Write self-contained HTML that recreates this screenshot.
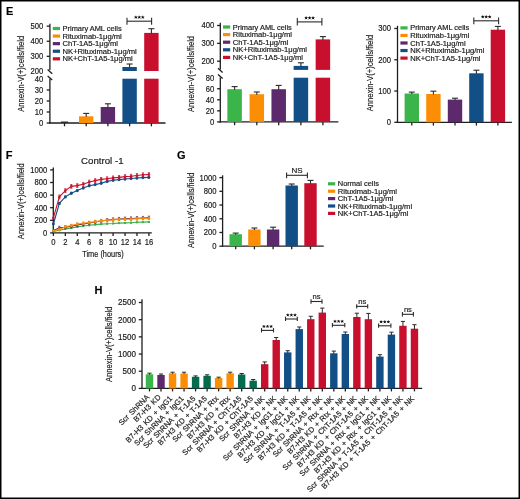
<!DOCTYPE html>
<html><head><meta charset="utf-8"><title>Figure</title>
<style>
html,body{margin:0;padding:0;background:#fff;}
svg{display:block;font-family:"Liberation Sans", sans-serif;will-change:transform;}
text{font-family:"Liberation Sans", sans-serif;stroke:#1a1a1a;stroke-width:0.18px;}
</style></head>
<body>
<svg width="520" height="499" viewBox="0 0 520 499">
<rect x="0.75" y="0.75" width="518.5" height="497.5" fill="#fff" stroke="#000" stroke-width="1.5"/>
<text x="6.00" y="14.80" font-size="11" text-anchor="start" font-weight="bold" fill="#000">E</text>
<text x="5.80" y="158.80" font-size="11" text-anchor="start" font-weight="bold" fill="#000">F</text>
<text x="177.10" y="159.00" font-size="11" text-anchor="start" font-weight="bold" fill="#000">G</text>
<text x="94.40" y="294.40" font-size="11" text-anchor="start" font-weight="bold" fill="#000">H</text>
<text transform="translate(23.90,73.80) rotate(-90)" x="0" y="0" font-size="8.8" text-anchor="middle" fill="#1a1a1a" textLength="76.00" lengthAdjust="spacingAndGlyphs">Annexin-V(+)cells/field</text>
<line x1="49.90" y1="23.66" x2="49.90" y2="70.00" stroke="#1e1e1e" stroke-width="1.3"/>
<line x1="49.90" y1="78.80" x2="49.90" y2="123.50" stroke="#1e1e1e" stroke-width="1.3"/>
<line x1="47.60" y1="69.50" x2="52.20" y2="73.70" stroke="#1e1e1e" stroke-width="1.3"/>
<line x1="47.60" y1="75.90" x2="52.20" y2="80.10" stroke="#1e1e1e" stroke-width="1.3"/>
<line x1="46.70" y1="26.16" x2="49.90" y2="26.16" stroke="#1e1e1e" stroke-width="1.3"/>
<text x="43.20" y="29.11" font-size="8.3" text-anchor="end" font-weight="normal" fill="#1a1a1a" textLength="12.74" lengthAdjust="spacingAndGlyphs">500</text>
<line x1="46.70" y1="41.24" x2="49.90" y2="41.24" stroke="#1e1e1e" stroke-width="1.3"/>
<text x="43.20" y="44.19" font-size="8.3" text-anchor="end" font-weight="normal" fill="#1a1a1a" textLength="12.74" lengthAdjust="spacingAndGlyphs">400</text>
<line x1="46.70" y1="56.32" x2="49.90" y2="56.32" stroke="#1e1e1e" stroke-width="1.3"/>
<text x="43.20" y="59.27" font-size="8.3" text-anchor="end" font-weight="normal" fill="#1a1a1a" textLength="12.74" lengthAdjust="spacingAndGlyphs">300</text>
<text x="43.20" y="74.35" font-size="8.3" text-anchor="end" font-weight="normal" fill="#1a1a1a" textLength="12.74" lengthAdjust="spacingAndGlyphs">200</text>
<text x="43.20" y="81.95" font-size="8.3" text-anchor="end" font-weight="normal" fill="#1a1a1a" textLength="8.49" lengthAdjust="spacingAndGlyphs">40</text>
<line x1="46.70" y1="90.00" x2="49.90" y2="90.00" stroke="#1e1e1e" stroke-width="1.3"/>
<text x="43.20" y="92.95" font-size="8.3" text-anchor="end" font-weight="normal" fill="#1a1a1a" textLength="8.49" lengthAdjust="spacingAndGlyphs">30</text>
<line x1="46.70" y1="101.00" x2="49.90" y2="101.00" stroke="#1e1e1e" stroke-width="1.3"/>
<text x="43.20" y="103.95" font-size="8.3" text-anchor="end" font-weight="normal" fill="#1a1a1a" textLength="8.49" lengthAdjust="spacingAndGlyphs">20</text>
<line x1="46.70" y1="112.00" x2="49.90" y2="112.00" stroke="#1e1e1e" stroke-width="1.3"/>
<text x="43.20" y="114.95" font-size="8.3" text-anchor="end" font-weight="normal" fill="#1a1a1a" textLength="8.49" lengthAdjust="spacingAndGlyphs">10</text>
<line x1="46.70" y1="123.00" x2="49.90" y2="123.00" stroke="#1e1e1e" stroke-width="1.3"/>
<text x="43.20" y="125.95" font-size="8.3" text-anchor="end" font-weight="normal" fill="#1a1a1a" textLength="4.25" lengthAdjust="spacingAndGlyphs">0</text>
<line x1="49.40" y1="123.00" x2="165.50" y2="123.00" stroke="#1e1e1e" stroke-width="1.3"/>
<line x1="64.50" y1="123.00" x2="64.50" y2="126.30" stroke="#1e1e1e" stroke-width="1.3"/>
<line x1="86.20" y1="123.00" x2="86.20" y2="126.30" stroke="#1e1e1e" stroke-width="1.3"/>
<line x1="107.90" y1="123.00" x2="107.90" y2="126.30" stroke="#1e1e1e" stroke-width="1.3"/>
<line x1="129.60" y1="123.00" x2="129.60" y2="126.30" stroke="#1e1e1e" stroke-width="1.3"/>
<line x1="151.40" y1="123.00" x2="151.40" y2="126.30" stroke="#1e1e1e" stroke-width="1.3"/>
<line x1="60.90" y1="122.20" x2="68.10" y2="122.20" stroke="#2a2a2a" stroke-width="1.4"/>
<rect x="79.00" y="116.30" width="14.40" height="6.70" fill="#fc8e06"/>
<line x1="86.20" y1="116.80" x2="86.20" y2="113.40" stroke="#2a2a2a" stroke-width="1.1"/>
<line x1="83.20" y1="113.40" x2="89.20" y2="113.40" stroke="#2a2a2a" stroke-width="1.1"/>
<rect x="100.70" y="107.00" width="14.40" height="16.00" fill="#5c2a6c"/>
<line x1="107.90" y1="107.50" x2="107.90" y2="103.80" stroke="#2a2a2a" stroke-width="1.1"/>
<line x1="104.90" y1="103.80" x2="110.90" y2="103.80" stroke="#2a2a2a" stroke-width="1.1"/>
<rect x="122.40" y="78.70" width="14.40" height="44.30" fill="#124f86"/>
<rect x="122.40" y="67.00" width="14.40" height="4.00" fill="#124f86"/>
<line x1="129.60" y1="67.50" x2="129.60" y2="64.00" stroke="#2a2a2a" stroke-width="1.1"/>
<line x1="126.60" y1="64.00" x2="132.60" y2="64.00" stroke="#2a2a2a" stroke-width="1.1"/>
<rect x="144.20" y="78.70" width="14.40" height="44.30" fill="#c8102e"/>
<rect x="144.20" y="32.90" width="14.40" height="38.10" fill="#c8102e"/>
<line x1="151.40" y1="33.40" x2="151.40" y2="28.70" stroke="#2a2a2a" stroke-width="1.1"/>
<line x1="148.40" y1="28.70" x2="154.40" y2="28.70" stroke="#2a2a2a" stroke-width="1.1"/>
<line x1="127.00" y1="21.20" x2="151.60" y2="21.20" stroke="#2a2a2a" stroke-width="1.1"/>
<line x1="127.00" y1="17.80" x2="127.00" y2="24.70" stroke="#2a2a2a" stroke-width="1.1"/>
<line x1="151.60" y1="17.80" x2="151.60" y2="24.70" stroke="#2a2a2a" stroke-width="1.1"/>
<path d="M135.85,17.30L135.85,16.15M135.85,17.30L134.76,16.94M135.85,17.30L135.17,18.23M135.85,17.30L136.53,18.23M135.85,17.30L136.94,16.94" stroke="#111" stroke-width="0.85" stroke-linecap="round" fill="none"/>
<circle cx="135.85" cy="17.30" r="0.63" fill="#111"/>
<path d="M139.30,17.30L139.30,16.15M139.30,17.30L138.21,16.94M139.30,17.30L138.62,18.23M139.30,17.30L139.98,18.23M139.30,17.30L140.39,16.94" stroke="#111" stroke-width="0.85" stroke-linecap="round" fill="none"/>
<circle cx="139.30" cy="17.30" r="0.63" fill="#111"/>
<path d="M142.75,17.30L142.75,16.15M142.75,17.30L141.66,16.94M142.75,17.30L142.07,18.23M142.75,17.30L143.43,18.23M142.75,17.30L143.84,16.94" stroke="#111" stroke-width="0.85" stroke-linecap="round" fill="none"/>
<circle cx="142.75" cy="17.30" r="0.63" fill="#111"/>
<rect x="52.80" y="26.90" width="7.20" height="3.20" fill="#3bb44a"/>
<text x="62.60" y="31.06" font-size="7.1" text-anchor="start" font-weight="normal" fill="#1a1a1a" textLength="59.00" lengthAdjust="spacingAndGlyphs">Primary AML cells</text>
<rect x="52.80" y="34.48" width="7.20" height="3.20" fill="#fc8e06"/>
<text x="62.60" y="38.64" font-size="7.1" text-anchor="start" font-weight="normal" fill="#1a1a1a" textLength="59.20" lengthAdjust="spacingAndGlyphs">Rituximab-1μg/ml</text>
<rect x="52.80" y="42.06" width="7.20" height="3.20" fill="#5c2a6c"/>
<text x="62.60" y="46.22" font-size="7.1" text-anchor="start" font-weight="normal" fill="#1a1a1a" textLength="55.40" lengthAdjust="spacingAndGlyphs">ChT-1A5-1μg/ml</text>
<rect x="52.80" y="49.64" width="7.20" height="3.20" fill="#124f86"/>
<text x="62.60" y="53.80" font-size="7.1" text-anchor="start" font-weight="normal" fill="#1a1a1a" textLength="74.20" lengthAdjust="spacingAndGlyphs">NK+Rituximab-1μg/ml</text>
<rect x="52.80" y="57.22" width="7.20" height="3.20" fill="#c8102e"/>
<text x="62.60" y="61.38" font-size="7.1" text-anchor="start" font-weight="normal" fill="#1a1a1a" textLength="70.20" lengthAdjust="spacingAndGlyphs">NK+ChT-1A5-1μg/ml</text>
<text transform="translate(194.20,74.00) rotate(-90)" x="0" y="0" font-size="8.8" text-anchor="middle" fill="#1a1a1a" textLength="76.20" lengthAdjust="spacingAndGlyphs">Annexin-V(+)cells/field</text>
<line x1="220.30" y1="22.70" x2="220.30" y2="69.40" stroke="#1e1e1e" stroke-width="1.3"/>
<line x1="220.30" y1="77.60" x2="220.30" y2="122.40" stroke="#1e1e1e" stroke-width="1.3"/>
<line x1="218.00" y1="68.30" x2="222.60" y2="72.50" stroke="#1e1e1e" stroke-width="1.3"/>
<line x1="218.00" y1="74.40" x2="222.60" y2="78.60" stroke="#1e1e1e" stroke-width="1.3"/>
<line x1="217.10" y1="25.50" x2="220.30" y2="25.50" stroke="#1e1e1e" stroke-width="1.3"/>
<text x="214.30" y="28.45" font-size="8.3" text-anchor="end" font-weight="normal" fill="#1a1a1a" textLength="12.74" lengthAdjust="spacingAndGlyphs">400</text>
<line x1="217.10" y1="43.35" x2="220.30" y2="43.35" stroke="#1e1e1e" stroke-width="1.3"/>
<text x="214.30" y="46.30" font-size="8.3" text-anchor="end" font-weight="normal" fill="#1a1a1a" textLength="12.74" lengthAdjust="spacingAndGlyphs">300</text>
<line x1="217.10" y1="61.20" x2="220.30" y2="61.20" stroke="#1e1e1e" stroke-width="1.3"/>
<text x="214.30" y="64.15" font-size="8.3" text-anchor="end" font-weight="normal" fill="#1a1a1a" textLength="12.74" lengthAdjust="spacingAndGlyphs">200</text>
<text x="214.30" y="80.65" font-size="8.3" text-anchor="end" font-weight="normal" fill="#1a1a1a" textLength="8.49" lengthAdjust="spacingAndGlyphs">80</text>
<line x1="217.10" y1="88.75" x2="220.30" y2="88.75" stroke="#1e1e1e" stroke-width="1.3"/>
<text x="214.30" y="91.70" font-size="8.3" text-anchor="end" font-weight="normal" fill="#1a1a1a" textLength="8.49" lengthAdjust="spacingAndGlyphs">60</text>
<line x1="217.10" y1="99.80" x2="220.30" y2="99.80" stroke="#1e1e1e" stroke-width="1.3"/>
<text x="214.30" y="102.75" font-size="8.3" text-anchor="end" font-weight="normal" fill="#1a1a1a" textLength="8.49" lengthAdjust="spacingAndGlyphs">40</text>
<line x1="217.10" y1="110.85" x2="220.30" y2="110.85" stroke="#1e1e1e" stroke-width="1.3"/>
<text x="214.30" y="113.80" font-size="8.3" text-anchor="end" font-weight="normal" fill="#1a1a1a" textLength="8.49" lengthAdjust="spacingAndGlyphs">20</text>
<line x1="217.10" y1="121.90" x2="220.30" y2="121.90" stroke="#1e1e1e" stroke-width="1.3"/>
<text x="214.30" y="124.85" font-size="8.3" text-anchor="end" font-weight="normal" fill="#1a1a1a" textLength="4.25" lengthAdjust="spacingAndGlyphs">0</text>
<line x1="219.80" y1="121.90" x2="338.40" y2="121.90" stroke="#1e1e1e" stroke-width="1.3"/>
<line x1="234.60" y1="121.90" x2="234.60" y2="125.20" stroke="#1e1e1e" stroke-width="1.3"/>
<line x1="256.80" y1="121.90" x2="256.80" y2="125.20" stroke="#1e1e1e" stroke-width="1.3"/>
<line x1="278.70" y1="121.90" x2="278.70" y2="125.20" stroke="#1e1e1e" stroke-width="1.3"/>
<line x1="300.90" y1="121.90" x2="300.90" y2="125.20" stroke="#1e1e1e" stroke-width="1.3"/>
<line x1="322.90" y1="121.90" x2="322.90" y2="125.20" stroke="#1e1e1e" stroke-width="1.3"/>
<rect x="227.35" y="89.20" width="14.50" height="32.70" fill="#3bb44a"/>
<line x1="234.60" y1="89.70" x2="234.60" y2="86.60" stroke="#2a2a2a" stroke-width="1.1"/>
<line x1="231.60" y1="86.60" x2="237.60" y2="86.60" stroke="#2a2a2a" stroke-width="1.1"/>
<rect x="249.55" y="94.20" width="14.50" height="27.70" fill="#fc8e06"/>
<line x1="256.80" y1="94.70" x2="256.80" y2="92.00" stroke="#2a2a2a" stroke-width="1.1"/>
<line x1="253.80" y1="92.00" x2="259.80" y2="92.00" stroke="#2a2a2a" stroke-width="1.1"/>
<rect x="271.45" y="89.20" width="14.50" height="32.70" fill="#5c2a6c"/>
<line x1="278.70" y1="89.70" x2="278.70" y2="85.40" stroke="#2a2a2a" stroke-width="1.1"/>
<line x1="275.70" y1="85.40" x2="281.70" y2="85.40" stroke="#2a2a2a" stroke-width="1.1"/>
<rect x="293.65" y="77.70" width="14.50" height="44.20" fill="#124f86"/>
<rect x="293.65" y="65.90" width="14.50" height="4.00" fill="#124f86"/>
<line x1="300.90" y1="66.40" x2="300.90" y2="62.80" stroke="#2a2a2a" stroke-width="1.1"/>
<line x1="297.90" y1="62.80" x2="303.90" y2="62.80" stroke="#2a2a2a" stroke-width="1.1"/>
<rect x="315.65" y="77.70" width="14.50" height="44.20" fill="#c8102e"/>
<rect x="315.65" y="39.40" width="14.50" height="30.50" fill="#c8102e"/>
<line x1="322.90" y1="39.90" x2="322.90" y2="36.60" stroke="#2a2a2a" stroke-width="1.1"/>
<line x1="319.90" y1="36.60" x2="325.90" y2="36.60" stroke="#2a2a2a" stroke-width="1.1"/>
<line x1="297.30" y1="21.90" x2="321.90" y2="21.90" stroke="#2a2a2a" stroke-width="1.1"/>
<line x1="297.30" y1="18.10" x2="297.30" y2="25.60" stroke="#2a2a2a" stroke-width="1.1"/>
<line x1="321.90" y1="18.10" x2="321.90" y2="25.60" stroke="#2a2a2a" stroke-width="1.1"/>
<path d="M306.15,18.00L306.15,16.85M306.15,18.00L305.06,17.64M306.15,18.00L305.47,18.93M306.15,18.00L306.83,18.93M306.15,18.00L307.24,17.64" stroke="#111" stroke-width="0.85" stroke-linecap="round" fill="none"/>
<circle cx="306.15" cy="18.00" r="0.63" fill="#111"/>
<path d="M309.60,18.00L309.60,16.85M309.60,18.00L308.51,17.64M309.60,18.00L308.92,18.93M309.60,18.00L310.28,18.93M309.60,18.00L310.69,17.64" stroke="#111" stroke-width="0.85" stroke-linecap="round" fill="none"/>
<circle cx="309.60" cy="18.00" r="0.63" fill="#111"/>
<path d="M313.05,18.00L313.05,16.85M313.05,18.00L311.96,17.64M313.05,18.00L312.37,18.93M313.05,18.00L313.73,18.93M313.05,18.00L314.14,17.64" stroke="#111" stroke-width="0.85" stroke-linecap="round" fill="none"/>
<circle cx="313.05" cy="18.00" r="0.63" fill="#111"/>
<rect x="223.00" y="25.40" width="7.20" height="3.20" fill="#3bb44a"/>
<text x="232.80" y="29.56" font-size="7.1" text-anchor="start" font-weight="normal" fill="#1a1a1a" textLength="59.00" lengthAdjust="spacingAndGlyphs">Primary AML cells</text>
<rect x="223.00" y="33.00" width="7.20" height="3.20" fill="#fc8e06"/>
<text x="232.80" y="37.16" font-size="7.1" text-anchor="start" font-weight="normal" fill="#1a1a1a" textLength="59.20" lengthAdjust="spacingAndGlyphs">Rituximab-1μg/ml</text>
<rect x="223.00" y="40.60" width="7.20" height="3.20" fill="#5c2a6c"/>
<text x="232.80" y="44.76" font-size="7.1" text-anchor="start" font-weight="normal" fill="#1a1a1a" textLength="55.40" lengthAdjust="spacingAndGlyphs">ChT-1A5-1μg/ml</text>
<rect x="223.00" y="48.20" width="7.20" height="3.20" fill="#124f86"/>
<text x="232.80" y="52.36" font-size="7.1" text-anchor="start" font-weight="normal" fill="#1a1a1a" textLength="74.20" lengthAdjust="spacingAndGlyphs">NK+Rituximab-1μg/ml</text>
<rect x="223.00" y="55.80" width="7.20" height="3.20" fill="#c8102e"/>
<text x="232.80" y="59.96" font-size="7.1" text-anchor="start" font-weight="normal" fill="#1a1a1a" textLength="70.20" lengthAdjust="spacingAndGlyphs">NK+ChT-1A5-1μg/ml</text>
<text transform="translate(373.30,73.00) rotate(-90)" x="0" y="0" font-size="8.8" text-anchor="middle" fill="#1a1a1a" textLength="76.60" lengthAdjust="spacingAndGlyphs">Annexin-V(+)cells/field</text>
<line x1="397.50" y1="25.79" x2="397.50" y2="122.80" stroke="#1e1e1e" stroke-width="1.3"/>
<line x1="394.30" y1="28.49" x2="397.50" y2="28.49" stroke="#1e1e1e" stroke-width="1.3"/>
<text x="391.10" y="31.44" font-size="8.3" text-anchor="end" font-weight="normal" fill="#1a1a1a" textLength="12.74" lengthAdjust="spacingAndGlyphs">300</text>
<line x1="394.30" y1="59.76" x2="397.50" y2="59.76" stroke="#1e1e1e" stroke-width="1.3"/>
<text x="391.10" y="62.71" font-size="8.3" text-anchor="end" font-weight="normal" fill="#1a1a1a" textLength="12.74" lengthAdjust="spacingAndGlyphs">200</text>
<line x1="394.30" y1="91.03" x2="397.50" y2="91.03" stroke="#1e1e1e" stroke-width="1.3"/>
<text x="391.10" y="93.98" font-size="8.3" text-anchor="end" font-weight="normal" fill="#1a1a1a" textLength="12.74" lengthAdjust="spacingAndGlyphs">100</text>
<line x1="394.30" y1="122.30" x2="397.50" y2="122.30" stroke="#1e1e1e" stroke-width="1.3"/>
<text x="391.10" y="125.25" font-size="8.3" text-anchor="end" font-weight="normal" fill="#1a1a1a" textLength="4.25" lengthAdjust="spacingAndGlyphs">0</text>
<line x1="397.00" y1="122.30" x2="511.90" y2="122.30" stroke="#1e1e1e" stroke-width="1.3"/>
<line x1="411.80" y1="122.30" x2="411.80" y2="125.60" stroke="#1e1e1e" stroke-width="1.3"/>
<line x1="433.40" y1="122.30" x2="433.40" y2="125.60" stroke="#1e1e1e" stroke-width="1.3"/>
<line x1="455.00" y1="122.30" x2="455.00" y2="125.60" stroke="#1e1e1e" stroke-width="1.3"/>
<line x1="476.40" y1="122.30" x2="476.40" y2="125.60" stroke="#1e1e1e" stroke-width="1.3"/>
<line x1="497.90" y1="122.30" x2="497.90" y2="125.60" stroke="#1e1e1e" stroke-width="1.3"/>
<rect x="404.60" y="93.50" width="14.40" height="28.80" fill="#3bb44a"/>
<line x1="411.80" y1="94.00" x2="411.80" y2="92.10" stroke="#2a2a2a" stroke-width="1.1"/>
<line x1="408.80" y1="92.10" x2="414.80" y2="92.10" stroke="#2a2a2a" stroke-width="1.1"/>
<rect x="426.20" y="94.00" width="14.40" height="28.30" fill="#fc8e06"/>
<line x1="433.40" y1="94.50" x2="433.40" y2="91.20" stroke="#2a2a2a" stroke-width="1.1"/>
<line x1="430.40" y1="91.20" x2="436.40" y2="91.20" stroke="#2a2a2a" stroke-width="1.1"/>
<rect x="447.80" y="99.60" width="14.40" height="22.70" fill="#5c2a6c"/>
<line x1="455.00" y1="100.10" x2="455.00" y2="98.20" stroke="#2a2a2a" stroke-width="1.1"/>
<line x1="452.00" y1="98.20" x2="458.00" y2="98.20" stroke="#2a2a2a" stroke-width="1.1"/>
<rect x="469.20" y="73.30" width="14.40" height="49.00" fill="#124f86"/>
<line x1="476.40" y1="73.80" x2="476.40" y2="70.20" stroke="#2a2a2a" stroke-width="1.1"/>
<line x1="473.40" y1="70.20" x2="479.40" y2="70.20" stroke="#2a2a2a" stroke-width="1.1"/>
<rect x="490.70" y="29.70" width="14.40" height="92.60" fill="#c8102e"/>
<line x1="497.90" y1="30.20" x2="497.90" y2="26.40" stroke="#2a2a2a" stroke-width="1.1"/>
<line x1="494.90" y1="26.40" x2="500.90" y2="26.40" stroke="#2a2a2a" stroke-width="1.1"/>
<line x1="473.80" y1="20.80" x2="498.60" y2="20.80" stroke="#2a2a2a" stroke-width="1.1"/>
<line x1="473.80" y1="17.40" x2="473.80" y2="24.20" stroke="#2a2a2a" stroke-width="1.1"/>
<line x1="498.60" y1="17.40" x2="498.60" y2="24.20" stroke="#2a2a2a" stroke-width="1.1"/>
<path d="M482.75,16.90L482.75,15.75M482.75,16.90L481.66,16.54M482.75,16.90L482.07,17.83M482.75,16.90L483.43,17.83M482.75,16.90L483.84,16.54" stroke="#111" stroke-width="0.85" stroke-linecap="round" fill="none"/>
<circle cx="482.75" cy="16.90" r="0.63" fill="#111"/>
<path d="M486.20,16.90L486.20,15.75M486.20,16.90L485.11,16.54M486.20,16.90L485.52,17.83M486.20,16.90L486.88,17.83M486.20,16.90L487.29,16.54" stroke="#111" stroke-width="0.85" stroke-linecap="round" fill="none"/>
<circle cx="486.20" cy="16.90" r="0.63" fill="#111"/>
<path d="M489.65,16.90L489.65,15.75M489.65,16.90L488.56,16.54M489.65,16.90L488.97,17.83M489.65,16.90L490.33,17.83M489.65,16.90L490.74,16.54" stroke="#111" stroke-width="0.85" stroke-linecap="round" fill="none"/>
<circle cx="489.65" cy="16.90" r="0.63" fill="#111"/>
<rect x="400.40" y="26.30" width="7.20" height="3.20" fill="#3bb44a"/>
<text x="410.20" y="30.46" font-size="7.1" text-anchor="start" font-weight="normal" fill="#1a1a1a" textLength="59.00" lengthAdjust="spacingAndGlyphs">Primary AML cells</text>
<rect x="400.40" y="33.85" width="7.20" height="3.20" fill="#fc8e06"/>
<text x="410.20" y="38.01" font-size="7.1" text-anchor="start" font-weight="normal" fill="#1a1a1a" textLength="59.20" lengthAdjust="spacingAndGlyphs">Rituximab-1μg/ml</text>
<rect x="400.40" y="41.40" width="7.20" height="3.20" fill="#5c2a6c"/>
<text x="410.20" y="45.56" font-size="7.1" text-anchor="start" font-weight="normal" fill="#1a1a1a" textLength="55.40" lengthAdjust="spacingAndGlyphs">ChT-1A5-1μg/ml</text>
<rect x="400.40" y="48.95" width="7.20" height="3.20" fill="#124f86"/>
<text x="410.20" y="53.11" font-size="7.1" text-anchor="start" font-weight="normal" fill="#1a1a1a" textLength="74.20" lengthAdjust="spacingAndGlyphs">NK+Rituximab-1μg/ml</text>
<rect x="400.40" y="56.50" width="7.20" height="3.20" fill="#c8102e"/>
<text x="410.20" y="60.66" font-size="7.1" text-anchor="start" font-weight="normal" fill="#1a1a1a" textLength="70.20" lengthAdjust="spacingAndGlyphs">NK+ChT-1A5-1μg/ml</text>
<text transform="translate(23.90,201.20) rotate(-90)" x="0" y="0" font-size="8.8" text-anchor="middle" fill="#1a1a1a" textLength="76.00" lengthAdjust="spacingAndGlyphs">Annexin-V(+)cells/field</text>
<line x1="53.30" y1="167.40" x2="53.30" y2="233.40" stroke="#1e1e1e" stroke-width="1.3"/>
<line x1="50.10" y1="169.90" x2="53.30" y2="169.90" stroke="#1e1e1e" stroke-width="1.3"/>
<text x="47.30" y="172.85" font-size="8.3" text-anchor="end" font-weight="normal" fill="#1a1a1a" textLength="16.99" lengthAdjust="spacingAndGlyphs">1000</text>
<line x1="50.10" y1="182.50" x2="53.30" y2="182.50" stroke="#1e1e1e" stroke-width="1.3"/>
<text x="47.30" y="185.45" font-size="8.3" text-anchor="end" font-weight="normal" fill="#1a1a1a" textLength="12.74" lengthAdjust="spacingAndGlyphs">800</text>
<line x1="50.10" y1="195.10" x2="53.30" y2="195.10" stroke="#1e1e1e" stroke-width="1.3"/>
<text x="47.30" y="198.05" font-size="8.3" text-anchor="end" font-weight="normal" fill="#1a1a1a" textLength="12.74" lengthAdjust="spacingAndGlyphs">600</text>
<line x1="50.10" y1="207.70" x2="53.30" y2="207.70" stroke="#1e1e1e" stroke-width="1.3"/>
<text x="47.30" y="210.65" font-size="8.3" text-anchor="end" font-weight="normal" fill="#1a1a1a" textLength="12.74" lengthAdjust="spacingAndGlyphs">400</text>
<line x1="50.10" y1="220.30" x2="53.30" y2="220.30" stroke="#1e1e1e" stroke-width="1.3"/>
<text x="47.30" y="223.25" font-size="8.3" text-anchor="end" font-weight="normal" fill="#1a1a1a" textLength="12.74" lengthAdjust="spacingAndGlyphs">200</text>
<line x1="50.10" y1="232.90" x2="53.30" y2="232.90" stroke="#1e1e1e" stroke-width="1.3"/>
<text x="47.30" y="235.85" font-size="8.3" text-anchor="end" font-weight="normal" fill="#1a1a1a" textLength="4.25" lengthAdjust="spacingAndGlyphs">0</text>
<line x1="52.80" y1="232.90" x2="151.80" y2="232.90" stroke="#1e1e1e" stroke-width="1.3"/>
<line x1="53.40" y1="232.90" x2="53.40" y2="235.90" stroke="#1e1e1e" stroke-width="1.3"/>
<text x="53.40" y="245.10" font-size="8.3" text-anchor="middle" font-weight="normal" fill="#1a1a1a" textLength="4.25" lengthAdjust="spacingAndGlyphs">0</text>
<line x1="65.34" y1="232.90" x2="65.34" y2="235.90" stroke="#1e1e1e" stroke-width="1.3"/>
<text x="65.34" y="245.10" font-size="8.3" text-anchor="middle" font-weight="normal" fill="#1a1a1a" textLength="4.25" lengthAdjust="spacingAndGlyphs">2</text>
<line x1="77.28" y1="232.90" x2="77.28" y2="235.90" stroke="#1e1e1e" stroke-width="1.3"/>
<text x="77.28" y="245.10" font-size="8.3" text-anchor="middle" font-weight="normal" fill="#1a1a1a" textLength="4.25" lengthAdjust="spacingAndGlyphs">4</text>
<line x1="89.22" y1="232.90" x2="89.22" y2="235.90" stroke="#1e1e1e" stroke-width="1.3"/>
<text x="89.22" y="245.10" font-size="8.3" text-anchor="middle" font-weight="normal" fill="#1a1a1a" textLength="4.25" lengthAdjust="spacingAndGlyphs">6</text>
<line x1="101.16" y1="232.90" x2="101.16" y2="235.90" stroke="#1e1e1e" stroke-width="1.3"/>
<text x="101.16" y="245.10" font-size="8.3" text-anchor="middle" font-weight="normal" fill="#1a1a1a" textLength="4.25" lengthAdjust="spacingAndGlyphs">8</text>
<line x1="113.10" y1="232.90" x2="113.10" y2="235.90" stroke="#1e1e1e" stroke-width="1.3"/>
<text x="113.10" y="245.10" font-size="8.3" text-anchor="middle" font-weight="normal" fill="#1a1a1a" textLength="8.49" lengthAdjust="spacingAndGlyphs">10</text>
<line x1="125.04" y1="232.90" x2="125.04" y2="235.90" stroke="#1e1e1e" stroke-width="1.3"/>
<text x="125.04" y="245.10" font-size="8.3" text-anchor="middle" font-weight="normal" fill="#1a1a1a" textLength="8.49" lengthAdjust="spacingAndGlyphs">12</text>
<line x1="136.98" y1="232.90" x2="136.98" y2="235.90" stroke="#1e1e1e" stroke-width="1.3"/>
<text x="136.98" y="245.10" font-size="8.3" text-anchor="middle" font-weight="normal" fill="#1a1a1a" textLength="8.49" lengthAdjust="spacingAndGlyphs">14</text>
<line x1="148.92" y1="232.90" x2="148.92" y2="235.90" stroke="#1e1e1e" stroke-width="1.3"/>
<text x="148.92" y="245.10" font-size="8.3" text-anchor="middle" font-weight="normal" fill="#1a1a1a" textLength="8.49" lengthAdjust="spacingAndGlyphs">16</text>
<text x="103.00" y="257.40" font-size="8.9" text-anchor="middle" font-weight="normal" fill="#1a1a1a" textLength="41.60" lengthAdjust="spacingAndGlyphs">Time (hours)</text>
<text x="102.30" y="164.20" font-size="9.6" text-anchor="middle" font-weight="normal" fill="#1a1a1a" textLength="42.50" lengthAdjust="spacingAndGlyphs">Control -1</text>
<polyline points="53.40,231.40 59.37,230.20 65.34,228.90 71.31,227.90 77.28,226.90 83.25,226.00 89.22,225.20 95.19,224.60 101.16,224.10 107.13,223.70 113.10,223.50 119.07,223.10 125.04,222.90 131.01,222.70 136.98,222.30 142.95,222.10 148.92,221.90" fill="none" stroke="#3bb44a" stroke-width="1.1"/>
<circle cx="53.40" cy="231.40" r="1.2" fill="#3bb44a"/>
<circle cx="59.37" cy="230.20" r="1.2" fill="#3bb44a"/>
<circle cx="65.34" cy="228.90" r="1.2" fill="#3bb44a"/>
<circle cx="71.31" cy="227.90" r="1.2" fill="#3bb44a"/>
<circle cx="77.28" cy="226.90" r="1.2" fill="#3bb44a"/>
<circle cx="83.25" cy="226.00" r="1.2" fill="#3bb44a"/>
<circle cx="89.22" cy="225.20" r="1.2" fill="#3bb44a"/>
<circle cx="95.19" cy="224.60" r="1.2" fill="#3bb44a"/>
<circle cx="101.16" cy="224.10" r="1.2" fill="#3bb44a"/>
<circle cx="107.13" cy="223.70" r="1.2" fill="#3bb44a"/>
<circle cx="113.10" cy="223.50" r="1.2" fill="#3bb44a"/>
<circle cx="119.07" cy="223.10" r="1.2" fill="#3bb44a"/>
<circle cx="125.04" cy="222.90" r="1.2" fill="#3bb44a"/>
<circle cx="131.01" cy="222.70" r="1.2" fill="#3bb44a"/>
<circle cx="136.98" cy="222.30" r="1.2" fill="#3bb44a"/>
<circle cx="142.95" cy="222.10" r="1.2" fill="#3bb44a"/>
<circle cx="148.92" cy="221.90" r="1.2" fill="#3bb44a"/>
<line x1="59.37" y1="229.50" x2="59.37" y2="226.30" stroke="#5c2a6c" stroke-width="0.75"/>
<line x1="58.27" y1="226.30" x2="60.47" y2="226.30" stroke="#5c2a6c" stroke-width="0.75"/>
<line x1="58.27" y1="229.50" x2="60.47" y2="229.50" stroke="#5c2a6c" stroke-width="0.75"/>
<line x1="65.34" y1="228.80" x2="65.34" y2="225.60" stroke="#5c2a6c" stroke-width="0.75"/>
<line x1="64.24" y1="225.60" x2="66.44" y2="225.60" stroke="#5c2a6c" stroke-width="0.75"/>
<line x1="64.24" y1="228.80" x2="66.44" y2="228.80" stroke="#5c2a6c" stroke-width="0.75"/>
<line x1="71.31" y1="227.90" x2="71.31" y2="224.70" stroke="#5c2a6c" stroke-width="0.75"/>
<line x1="70.21" y1="224.70" x2="72.41" y2="224.70" stroke="#5c2a6c" stroke-width="0.75"/>
<line x1="70.21" y1="227.90" x2="72.41" y2="227.90" stroke="#5c2a6c" stroke-width="0.75"/>
<line x1="77.28" y1="226.60" x2="77.28" y2="223.40" stroke="#5c2a6c" stroke-width="0.75"/>
<line x1="76.18" y1="223.40" x2="78.38" y2="223.40" stroke="#5c2a6c" stroke-width="0.75"/>
<line x1="76.18" y1="226.60" x2="78.38" y2="226.60" stroke="#5c2a6c" stroke-width="0.75"/>
<line x1="83.25" y1="225.60" x2="83.25" y2="222.40" stroke="#5c2a6c" stroke-width="0.75"/>
<line x1="82.15" y1="222.40" x2="84.35" y2="222.40" stroke="#5c2a6c" stroke-width="0.75"/>
<line x1="82.15" y1="225.60" x2="84.35" y2="225.60" stroke="#5c2a6c" stroke-width="0.75"/>
<line x1="89.22" y1="224.60" x2="89.22" y2="221.40" stroke="#5c2a6c" stroke-width="0.75"/>
<line x1="88.12" y1="221.40" x2="90.32" y2="221.40" stroke="#5c2a6c" stroke-width="0.75"/>
<line x1="88.12" y1="224.60" x2="90.32" y2="224.60" stroke="#5c2a6c" stroke-width="0.75"/>
<line x1="95.19" y1="223.60" x2="95.19" y2="220.40" stroke="#5c2a6c" stroke-width="0.75"/>
<line x1="94.09" y1="220.40" x2="96.29" y2="220.40" stroke="#5c2a6c" stroke-width="0.75"/>
<line x1="94.09" y1="223.60" x2="96.29" y2="223.60" stroke="#5c2a6c" stroke-width="0.75"/>
<line x1="101.16" y1="222.60" x2="101.16" y2="219.40" stroke="#5c2a6c" stroke-width="0.75"/>
<line x1="100.06" y1="219.40" x2="102.26" y2="219.40" stroke="#5c2a6c" stroke-width="0.75"/>
<line x1="100.06" y1="222.60" x2="102.26" y2="222.60" stroke="#5c2a6c" stroke-width="0.75"/>
<line x1="107.13" y1="221.70" x2="107.13" y2="218.50" stroke="#5c2a6c" stroke-width="0.75"/>
<line x1="106.03" y1="218.50" x2="108.23" y2="218.50" stroke="#5c2a6c" stroke-width="0.75"/>
<line x1="106.03" y1="221.70" x2="108.23" y2="221.70" stroke="#5c2a6c" stroke-width="0.75"/>
<line x1="113.10" y1="221.10" x2="113.10" y2="217.90" stroke="#5c2a6c" stroke-width="0.75"/>
<line x1="112.00" y1="217.90" x2="114.20" y2="217.90" stroke="#5c2a6c" stroke-width="0.75"/>
<line x1="112.00" y1="221.10" x2="114.20" y2="221.10" stroke="#5c2a6c" stroke-width="0.75"/>
<line x1="119.07" y1="220.60" x2="119.07" y2="217.40" stroke="#5c2a6c" stroke-width="0.75"/>
<line x1="117.97" y1="217.40" x2="120.17" y2="217.40" stroke="#5c2a6c" stroke-width="0.75"/>
<line x1="117.97" y1="220.60" x2="120.17" y2="220.60" stroke="#5c2a6c" stroke-width="0.75"/>
<line x1="125.04" y1="220.30" x2="125.04" y2="217.10" stroke="#5c2a6c" stroke-width="0.75"/>
<line x1="123.94" y1="217.10" x2="126.14" y2="217.10" stroke="#5c2a6c" stroke-width="0.75"/>
<line x1="123.94" y1="220.30" x2="126.14" y2="220.30" stroke="#5c2a6c" stroke-width="0.75"/>
<line x1="131.01" y1="220.10" x2="131.01" y2="216.90" stroke="#5c2a6c" stroke-width="0.75"/>
<line x1="129.91" y1="216.90" x2="132.11" y2="216.90" stroke="#5c2a6c" stroke-width="0.75"/>
<line x1="129.91" y1="220.10" x2="132.11" y2="220.10" stroke="#5c2a6c" stroke-width="0.75"/>
<line x1="136.98" y1="219.80" x2="136.98" y2="216.60" stroke="#5c2a6c" stroke-width="0.75"/>
<line x1="135.88" y1="216.60" x2="138.08" y2="216.60" stroke="#5c2a6c" stroke-width="0.75"/>
<line x1="135.88" y1="219.80" x2="138.08" y2="219.80" stroke="#5c2a6c" stroke-width="0.75"/>
<line x1="142.95" y1="219.60" x2="142.95" y2="216.40" stroke="#5c2a6c" stroke-width="0.75"/>
<line x1="141.85" y1="216.40" x2="144.05" y2="216.40" stroke="#5c2a6c" stroke-width="0.75"/>
<line x1="141.85" y1="219.60" x2="144.05" y2="219.60" stroke="#5c2a6c" stroke-width="0.75"/>
<line x1="148.92" y1="219.40" x2="148.92" y2="216.20" stroke="#5c2a6c" stroke-width="0.75"/>
<line x1="147.82" y1="216.20" x2="150.02" y2="216.20" stroke="#5c2a6c" stroke-width="0.75"/>
<line x1="147.82" y1="219.40" x2="150.02" y2="219.40" stroke="#5c2a6c" stroke-width="0.75"/>
<polyline points="53.40,230.60 59.37,227.90 65.34,227.20 71.31,226.30 77.28,225.00 83.25,224.00 89.22,223.00 95.19,222.00 101.16,221.00 107.13,220.10 113.10,219.50 119.07,219.00 125.04,218.70 131.01,218.50 136.98,218.20 142.95,218.00 148.92,217.80" fill="none" stroke="#5c2a6c" stroke-width="1.1"/>
<circle cx="53.40" cy="230.60" r="1.2" fill="#5c2a6c"/>
<circle cx="59.37" cy="227.90" r="1.2" fill="#5c2a6c"/>
<circle cx="65.34" cy="227.20" r="1.2" fill="#5c2a6c"/>
<circle cx="71.31" cy="226.30" r="1.2" fill="#5c2a6c"/>
<circle cx="77.28" cy="225.00" r="1.2" fill="#5c2a6c"/>
<circle cx="83.25" cy="224.00" r="1.2" fill="#5c2a6c"/>
<circle cx="89.22" cy="223.00" r="1.2" fill="#5c2a6c"/>
<circle cx="95.19" cy="222.00" r="1.2" fill="#5c2a6c"/>
<circle cx="101.16" cy="221.00" r="1.2" fill="#5c2a6c"/>
<circle cx="107.13" cy="220.10" r="1.2" fill="#5c2a6c"/>
<circle cx="113.10" cy="219.50" r="1.2" fill="#5c2a6c"/>
<circle cx="119.07" cy="219.00" r="1.2" fill="#5c2a6c"/>
<circle cx="125.04" cy="218.70" r="1.2" fill="#5c2a6c"/>
<circle cx="131.01" cy="218.50" r="1.2" fill="#5c2a6c"/>
<circle cx="136.98" cy="218.20" r="1.2" fill="#5c2a6c"/>
<circle cx="142.95" cy="218.00" r="1.2" fill="#5c2a6c"/>
<circle cx="148.92" cy="217.80" r="1.2" fill="#5c2a6c"/>
<line x1="59.37" y1="230.40" x2="59.37" y2="228.00" stroke="#fc8e06" stroke-width="0.75"/>
<line x1="58.27" y1="228.00" x2="60.47" y2="228.00" stroke="#fc8e06" stroke-width="0.75"/>
<line x1="58.27" y1="230.40" x2="60.47" y2="230.40" stroke="#fc8e06" stroke-width="0.75"/>
<line x1="65.34" y1="228.00" x2="65.34" y2="225.60" stroke="#fc8e06" stroke-width="0.75"/>
<line x1="64.24" y1="225.60" x2="66.44" y2="225.60" stroke="#fc8e06" stroke-width="0.75"/>
<line x1="64.24" y1="228.00" x2="66.44" y2="228.00" stroke="#fc8e06" stroke-width="0.75"/>
<line x1="71.31" y1="226.70" x2="71.31" y2="224.30" stroke="#fc8e06" stroke-width="0.75"/>
<line x1="70.21" y1="224.30" x2="72.41" y2="224.30" stroke="#fc8e06" stroke-width="0.75"/>
<line x1="70.21" y1="226.70" x2="72.41" y2="226.70" stroke="#fc8e06" stroke-width="0.75"/>
<line x1="77.28" y1="225.20" x2="77.28" y2="222.80" stroke="#fc8e06" stroke-width="0.75"/>
<line x1="76.18" y1="222.80" x2="78.38" y2="222.80" stroke="#fc8e06" stroke-width="0.75"/>
<line x1="76.18" y1="225.20" x2="78.38" y2="225.20" stroke="#fc8e06" stroke-width="0.75"/>
<line x1="83.25" y1="224.50" x2="83.25" y2="222.10" stroke="#fc8e06" stroke-width="0.75"/>
<line x1="82.15" y1="222.10" x2="84.35" y2="222.10" stroke="#fc8e06" stroke-width="0.75"/>
<line x1="82.15" y1="224.50" x2="84.35" y2="224.50" stroke="#fc8e06" stroke-width="0.75"/>
<line x1="89.22" y1="223.70" x2="89.22" y2="221.30" stroke="#fc8e06" stroke-width="0.75"/>
<line x1="88.12" y1="221.30" x2="90.32" y2="221.30" stroke="#fc8e06" stroke-width="0.75"/>
<line x1="88.12" y1="223.70" x2="90.32" y2="223.70" stroke="#fc8e06" stroke-width="0.75"/>
<line x1="95.19" y1="222.80" x2="95.19" y2="220.40" stroke="#fc8e06" stroke-width="0.75"/>
<line x1="94.09" y1="220.40" x2="96.29" y2="220.40" stroke="#fc8e06" stroke-width="0.75"/>
<line x1="94.09" y1="222.80" x2="96.29" y2="222.80" stroke="#fc8e06" stroke-width="0.75"/>
<line x1="101.16" y1="222.10" x2="101.16" y2="219.70" stroke="#fc8e06" stroke-width="0.75"/>
<line x1="100.06" y1="219.70" x2="102.26" y2="219.70" stroke="#fc8e06" stroke-width="0.75"/>
<line x1="100.06" y1="222.10" x2="102.26" y2="222.10" stroke="#fc8e06" stroke-width="0.75"/>
<line x1="107.13" y1="221.50" x2="107.13" y2="219.10" stroke="#fc8e06" stroke-width="0.75"/>
<line x1="106.03" y1="219.10" x2="108.23" y2="219.10" stroke="#fc8e06" stroke-width="0.75"/>
<line x1="106.03" y1="221.50" x2="108.23" y2="221.50" stroke="#fc8e06" stroke-width="0.75"/>
<line x1="113.10" y1="221.10" x2="113.10" y2="218.70" stroke="#fc8e06" stroke-width="0.75"/>
<line x1="112.00" y1="218.70" x2="114.20" y2="218.70" stroke="#fc8e06" stroke-width="0.75"/>
<line x1="112.00" y1="221.10" x2="114.20" y2="221.10" stroke="#fc8e06" stroke-width="0.75"/>
<line x1="119.07" y1="220.70" x2="119.07" y2="218.30" stroke="#fc8e06" stroke-width="0.75"/>
<line x1="117.97" y1="218.30" x2="120.17" y2="218.30" stroke="#fc8e06" stroke-width="0.75"/>
<line x1="117.97" y1="220.70" x2="120.17" y2="220.70" stroke="#fc8e06" stroke-width="0.75"/>
<line x1="125.04" y1="220.50" x2="125.04" y2="218.10" stroke="#fc8e06" stroke-width="0.75"/>
<line x1="123.94" y1="218.10" x2="126.14" y2="218.10" stroke="#fc8e06" stroke-width="0.75"/>
<line x1="123.94" y1="220.50" x2="126.14" y2="220.50" stroke="#fc8e06" stroke-width="0.75"/>
<line x1="131.01" y1="220.30" x2="131.01" y2="217.90" stroke="#fc8e06" stroke-width="0.75"/>
<line x1="129.91" y1="217.90" x2="132.11" y2="217.90" stroke="#fc8e06" stroke-width="0.75"/>
<line x1="129.91" y1="220.30" x2="132.11" y2="220.30" stroke="#fc8e06" stroke-width="0.75"/>
<line x1="136.98" y1="219.90" x2="136.98" y2="217.50" stroke="#fc8e06" stroke-width="0.75"/>
<line x1="135.88" y1="217.50" x2="138.08" y2="217.50" stroke="#fc8e06" stroke-width="0.75"/>
<line x1="135.88" y1="219.90" x2="138.08" y2="219.90" stroke="#fc8e06" stroke-width="0.75"/>
<line x1="142.95" y1="219.70" x2="142.95" y2="217.30" stroke="#fc8e06" stroke-width="0.75"/>
<line x1="141.85" y1="217.30" x2="144.05" y2="217.30" stroke="#fc8e06" stroke-width="0.75"/>
<line x1="141.85" y1="219.70" x2="144.05" y2="219.70" stroke="#fc8e06" stroke-width="0.75"/>
<line x1="148.92" y1="219.50" x2="148.92" y2="217.10" stroke="#fc8e06" stroke-width="0.75"/>
<line x1="147.82" y1="217.10" x2="150.02" y2="217.10" stroke="#fc8e06" stroke-width="0.75"/>
<line x1="147.82" y1="219.50" x2="150.02" y2="219.50" stroke="#fc8e06" stroke-width="0.75"/>
<polyline points="53.40,230.80 59.37,229.20 65.34,226.80 71.31,225.50 77.28,224.00 83.25,223.30 89.22,222.50 95.19,221.60 101.16,220.90 107.13,220.30 113.10,219.90 119.07,219.50 125.04,219.30 131.01,219.10 136.98,218.70 142.95,218.50 148.92,218.30" fill="none" stroke="#fc8e06" stroke-width="1.1"/>
<circle cx="53.40" cy="230.80" r="1.3" fill="#fc8e06"/>
<circle cx="59.37" cy="229.20" r="1.3" fill="#fc8e06"/>
<circle cx="65.34" cy="226.80" r="1.3" fill="#fc8e06"/>
<circle cx="71.31" cy="225.50" r="1.3" fill="#fc8e06"/>
<circle cx="77.28" cy="224.00" r="1.3" fill="#fc8e06"/>
<circle cx="83.25" cy="223.30" r="1.3" fill="#fc8e06"/>
<circle cx="89.22" cy="222.50" r="1.3" fill="#fc8e06"/>
<circle cx="95.19" cy="221.60" r="1.3" fill="#fc8e06"/>
<circle cx="101.16" cy="220.90" r="1.3" fill="#fc8e06"/>
<circle cx="107.13" cy="220.30" r="1.3" fill="#fc8e06"/>
<circle cx="113.10" cy="219.90" r="1.3" fill="#fc8e06"/>
<circle cx="119.07" cy="219.50" r="1.3" fill="#fc8e06"/>
<circle cx="125.04" cy="219.30" r="1.3" fill="#fc8e06"/>
<circle cx="131.01" cy="219.10" r="1.3" fill="#fc8e06"/>
<circle cx="136.98" cy="218.70" r="1.3" fill="#fc8e06"/>
<circle cx="142.95" cy="218.50" r="1.3" fill="#fc8e06"/>
<circle cx="148.92" cy="218.30" r="1.3" fill="#fc8e06"/>
<line x1="59.37" y1="204.40" x2="59.37" y2="202.40" stroke="#124f86" stroke-width="0.75"/>
<line x1="58.27" y1="202.40" x2="60.47" y2="202.40" stroke="#124f86" stroke-width="0.75"/>
<line x1="58.27" y1="204.40" x2="60.47" y2="204.40" stroke="#124f86" stroke-width="0.75"/>
<line x1="65.34" y1="197.90" x2="65.34" y2="195.90" stroke="#124f86" stroke-width="0.75"/>
<line x1="64.24" y1="195.90" x2="66.44" y2="195.90" stroke="#124f86" stroke-width="0.75"/>
<line x1="64.24" y1="197.90" x2="66.44" y2="197.90" stroke="#124f86" stroke-width="0.75"/>
<line x1="71.31" y1="194.30" x2="71.31" y2="192.30" stroke="#124f86" stroke-width="0.75"/>
<line x1="70.21" y1="192.30" x2="72.41" y2="192.30" stroke="#124f86" stroke-width="0.75"/>
<line x1="70.21" y1="194.30" x2="72.41" y2="194.30" stroke="#124f86" stroke-width="0.75"/>
<line x1="77.28" y1="191.60" x2="77.28" y2="189.60" stroke="#124f86" stroke-width="0.75"/>
<line x1="76.18" y1="189.60" x2="78.38" y2="189.60" stroke="#124f86" stroke-width="0.75"/>
<line x1="76.18" y1="191.60" x2="78.38" y2="191.60" stroke="#124f86" stroke-width="0.75"/>
<line x1="83.25" y1="189.00" x2="83.25" y2="187.00" stroke="#124f86" stroke-width="0.75"/>
<line x1="82.15" y1="187.00" x2="84.35" y2="187.00" stroke="#124f86" stroke-width="0.75"/>
<line x1="82.15" y1="189.00" x2="84.35" y2="189.00" stroke="#124f86" stroke-width="0.75"/>
<line x1="89.22" y1="186.70" x2="89.22" y2="184.70" stroke="#124f86" stroke-width="0.75"/>
<line x1="88.12" y1="184.70" x2="90.32" y2="184.70" stroke="#124f86" stroke-width="0.75"/>
<line x1="88.12" y1="186.70" x2="90.32" y2="186.70" stroke="#124f86" stroke-width="0.75"/>
<line x1="95.19" y1="185.60" x2="95.19" y2="183.60" stroke="#124f86" stroke-width="0.75"/>
<line x1="94.09" y1="183.60" x2="96.29" y2="183.60" stroke="#124f86" stroke-width="0.75"/>
<line x1="94.09" y1="185.60" x2="96.29" y2="185.60" stroke="#124f86" stroke-width="0.75"/>
<line x1="101.16" y1="184.20" x2="101.16" y2="182.20" stroke="#124f86" stroke-width="0.75"/>
<line x1="100.06" y1="182.20" x2="102.26" y2="182.20" stroke="#124f86" stroke-width="0.75"/>
<line x1="100.06" y1="184.20" x2="102.26" y2="184.20" stroke="#124f86" stroke-width="0.75"/>
<line x1="107.13" y1="182.40" x2="107.13" y2="180.40" stroke="#124f86" stroke-width="0.75"/>
<line x1="106.03" y1="180.40" x2="108.23" y2="180.40" stroke="#124f86" stroke-width="0.75"/>
<line x1="106.03" y1="182.40" x2="108.23" y2="182.40" stroke="#124f86" stroke-width="0.75"/>
<line x1="113.10" y1="181.20" x2="113.10" y2="179.20" stroke="#124f86" stroke-width="0.75"/>
<line x1="112.00" y1="179.20" x2="114.20" y2="179.20" stroke="#124f86" stroke-width="0.75"/>
<line x1="112.00" y1="181.20" x2="114.20" y2="181.20" stroke="#124f86" stroke-width="0.75"/>
<line x1="119.07" y1="180.60" x2="119.07" y2="178.60" stroke="#124f86" stroke-width="0.75"/>
<line x1="117.97" y1="178.60" x2="120.17" y2="178.60" stroke="#124f86" stroke-width="0.75"/>
<line x1="117.97" y1="180.60" x2="120.17" y2="180.60" stroke="#124f86" stroke-width="0.75"/>
<line x1="125.04" y1="180.00" x2="125.04" y2="178.00" stroke="#124f86" stroke-width="0.75"/>
<line x1="123.94" y1="178.00" x2="126.14" y2="178.00" stroke="#124f86" stroke-width="0.75"/>
<line x1="123.94" y1="180.00" x2="126.14" y2="180.00" stroke="#124f86" stroke-width="0.75"/>
<line x1="131.01" y1="179.50" x2="131.01" y2="177.50" stroke="#124f86" stroke-width="0.75"/>
<line x1="129.91" y1="177.50" x2="132.11" y2="177.50" stroke="#124f86" stroke-width="0.75"/>
<line x1="129.91" y1="179.50" x2="132.11" y2="179.50" stroke="#124f86" stroke-width="0.75"/>
<line x1="136.98" y1="179.00" x2="136.98" y2="177.00" stroke="#124f86" stroke-width="0.75"/>
<line x1="135.88" y1="177.00" x2="138.08" y2="177.00" stroke="#124f86" stroke-width="0.75"/>
<line x1="135.88" y1="179.00" x2="138.08" y2="179.00" stroke="#124f86" stroke-width="0.75"/>
<line x1="142.95" y1="178.60" x2="142.95" y2="176.60" stroke="#124f86" stroke-width="0.75"/>
<line x1="141.85" y1="176.60" x2="144.05" y2="176.60" stroke="#124f86" stroke-width="0.75"/>
<line x1="141.85" y1="178.60" x2="144.05" y2="178.60" stroke="#124f86" stroke-width="0.75"/>
<line x1="148.92" y1="178.40" x2="148.92" y2="176.40" stroke="#124f86" stroke-width="0.75"/>
<line x1="147.82" y1="176.40" x2="150.02" y2="176.40" stroke="#124f86" stroke-width="0.75"/>
<line x1="147.82" y1="178.40" x2="150.02" y2="178.40" stroke="#124f86" stroke-width="0.75"/>
<polyline points="53.40,224.00 59.37,203.40 65.34,196.90 71.31,193.30 77.28,190.60 83.25,188.00 89.22,185.70 95.19,184.60 101.16,183.20 107.13,181.40 113.10,180.20 119.07,179.60 125.04,179.00 131.01,178.50 136.98,178.00 142.95,177.60 148.92,177.40" fill="none" stroke="#124f86" stroke-width="1.1"/>
<circle cx="53.40" cy="224.00" r="1.45" fill="#124f86"/>
<circle cx="59.37" cy="203.40" r="1.45" fill="#124f86"/>
<circle cx="65.34" cy="196.90" r="1.45" fill="#124f86"/>
<circle cx="71.31" cy="193.30" r="1.45" fill="#124f86"/>
<circle cx="77.28" cy="190.60" r="1.45" fill="#124f86"/>
<circle cx="83.25" cy="188.00" r="1.45" fill="#124f86"/>
<circle cx="89.22" cy="185.70" r="1.45" fill="#124f86"/>
<circle cx="95.19" cy="184.60" r="1.45" fill="#124f86"/>
<circle cx="101.16" cy="183.20" r="1.45" fill="#124f86"/>
<circle cx="107.13" cy="181.40" r="1.45" fill="#124f86"/>
<circle cx="113.10" cy="180.20" r="1.45" fill="#124f86"/>
<circle cx="119.07" cy="179.60" r="1.45" fill="#124f86"/>
<circle cx="125.04" cy="179.00" r="1.45" fill="#124f86"/>
<circle cx="131.01" cy="178.50" r="1.45" fill="#124f86"/>
<circle cx="136.98" cy="178.00" r="1.45" fill="#124f86"/>
<circle cx="142.95" cy="177.60" r="1.45" fill="#124f86"/>
<circle cx="148.92" cy="177.40" r="1.45" fill="#124f86"/>
<line x1="59.37" y1="198.80" x2="59.37" y2="195.00" stroke="#c8102e" stroke-width="0.75"/>
<line x1="58.27" y1="195.00" x2="60.47" y2="195.00" stroke="#c8102e" stroke-width="0.75"/>
<line x1="58.27" y1="198.80" x2="60.47" y2="198.80" stroke="#c8102e" stroke-width="0.75"/>
<line x1="65.34" y1="192.50" x2="65.34" y2="188.70" stroke="#c8102e" stroke-width="0.75"/>
<line x1="64.24" y1="188.70" x2="66.44" y2="188.70" stroke="#c8102e" stroke-width="0.75"/>
<line x1="64.24" y1="192.50" x2="66.44" y2="192.50" stroke="#c8102e" stroke-width="0.75"/>
<line x1="71.31" y1="188.30" x2="71.31" y2="184.50" stroke="#c8102e" stroke-width="0.75"/>
<line x1="70.21" y1="184.50" x2="72.41" y2="184.50" stroke="#c8102e" stroke-width="0.75"/>
<line x1="70.21" y1="188.30" x2="72.41" y2="188.30" stroke="#c8102e" stroke-width="0.75"/>
<line x1="77.28" y1="187.50" x2="77.28" y2="183.70" stroke="#c8102e" stroke-width="0.75"/>
<line x1="76.18" y1="183.70" x2="78.38" y2="183.70" stroke="#c8102e" stroke-width="0.75"/>
<line x1="76.18" y1="187.50" x2="78.38" y2="187.50" stroke="#c8102e" stroke-width="0.75"/>
<line x1="83.25" y1="186.20" x2="83.25" y2="182.40" stroke="#c8102e" stroke-width="0.75"/>
<line x1="82.15" y1="182.40" x2="84.35" y2="182.40" stroke="#c8102e" stroke-width="0.75"/>
<line x1="82.15" y1="186.20" x2="84.35" y2="186.20" stroke="#c8102e" stroke-width="0.75"/>
<line x1="89.22" y1="183.90" x2="89.22" y2="180.10" stroke="#c8102e" stroke-width="0.75"/>
<line x1="88.12" y1="180.10" x2="90.32" y2="180.10" stroke="#c8102e" stroke-width="0.75"/>
<line x1="88.12" y1="183.90" x2="90.32" y2="183.90" stroke="#c8102e" stroke-width="0.75"/>
<line x1="95.19" y1="182.50" x2="95.19" y2="178.70" stroke="#c8102e" stroke-width="0.75"/>
<line x1="94.09" y1="178.70" x2="96.29" y2="178.70" stroke="#c8102e" stroke-width="0.75"/>
<line x1="94.09" y1="182.50" x2="96.29" y2="182.50" stroke="#c8102e" stroke-width="0.75"/>
<line x1="101.16" y1="181.30" x2="101.16" y2="177.50" stroke="#c8102e" stroke-width="0.75"/>
<line x1="100.06" y1="177.50" x2="102.26" y2="177.50" stroke="#c8102e" stroke-width="0.75"/>
<line x1="100.06" y1="181.30" x2="102.26" y2="181.30" stroke="#c8102e" stroke-width="0.75"/>
<line x1="107.13" y1="180.60" x2="107.13" y2="176.80" stroke="#c8102e" stroke-width="0.75"/>
<line x1="106.03" y1="176.80" x2="108.23" y2="176.80" stroke="#c8102e" stroke-width="0.75"/>
<line x1="106.03" y1="180.60" x2="108.23" y2="180.60" stroke="#c8102e" stroke-width="0.75"/>
<line x1="113.10" y1="179.80" x2="113.10" y2="176.00" stroke="#c8102e" stroke-width="0.75"/>
<line x1="112.00" y1="176.00" x2="114.20" y2="176.00" stroke="#c8102e" stroke-width="0.75"/>
<line x1="112.00" y1="179.80" x2="114.20" y2="179.80" stroke="#c8102e" stroke-width="0.75"/>
<line x1="119.07" y1="179.30" x2="119.07" y2="175.50" stroke="#c8102e" stroke-width="0.75"/>
<line x1="117.97" y1="175.50" x2="120.17" y2="175.50" stroke="#c8102e" stroke-width="0.75"/>
<line x1="117.97" y1="179.30" x2="120.17" y2="179.30" stroke="#c8102e" stroke-width="0.75"/>
<line x1="125.04" y1="178.50" x2="125.04" y2="174.70" stroke="#c8102e" stroke-width="0.75"/>
<line x1="123.94" y1="174.70" x2="126.14" y2="174.70" stroke="#c8102e" stroke-width="0.75"/>
<line x1="123.94" y1="178.50" x2="126.14" y2="178.50" stroke="#c8102e" stroke-width="0.75"/>
<line x1="131.01" y1="178.10" x2="131.01" y2="174.30" stroke="#c8102e" stroke-width="0.75"/>
<line x1="129.91" y1="174.30" x2="132.11" y2="174.30" stroke="#c8102e" stroke-width="0.75"/>
<line x1="129.91" y1="178.10" x2="132.11" y2="178.10" stroke="#c8102e" stroke-width="0.75"/>
<line x1="136.98" y1="177.40" x2="136.98" y2="173.60" stroke="#c8102e" stroke-width="0.75"/>
<line x1="135.88" y1="173.60" x2="138.08" y2="173.60" stroke="#c8102e" stroke-width="0.75"/>
<line x1="135.88" y1="177.40" x2="138.08" y2="177.40" stroke="#c8102e" stroke-width="0.75"/>
<line x1="142.95" y1="176.70" x2="142.95" y2="172.90" stroke="#c8102e" stroke-width="0.75"/>
<line x1="141.85" y1="172.90" x2="144.05" y2="172.90" stroke="#c8102e" stroke-width="0.75"/>
<line x1="141.85" y1="176.70" x2="144.05" y2="176.70" stroke="#c8102e" stroke-width="0.75"/>
<line x1="148.92" y1="176.50" x2="148.92" y2="172.70" stroke="#c8102e" stroke-width="0.75"/>
<line x1="147.82" y1="172.70" x2="150.02" y2="172.70" stroke="#c8102e" stroke-width="0.75"/>
<line x1="147.82" y1="176.50" x2="150.02" y2="176.50" stroke="#c8102e" stroke-width="0.75"/>
<polyline points="53.40,217.90 59.37,196.90 65.34,190.60 71.31,186.40 77.28,185.60 83.25,184.30 89.22,182.00 95.19,180.60 101.16,179.40 107.13,178.70 113.10,177.90 119.07,177.40 125.04,176.60 131.01,176.20 136.98,175.50 142.95,174.80 148.92,174.60" fill="none" stroke="#c8102e" stroke-width="1.1"/>
<circle cx="53.40" cy="217.90" r="1.3" fill="#c8102e"/>
<circle cx="59.37" cy="196.90" r="1.3" fill="#c8102e"/>
<circle cx="65.34" cy="190.60" r="1.3" fill="#c8102e"/>
<circle cx="71.31" cy="186.40" r="1.3" fill="#c8102e"/>
<circle cx="77.28" cy="185.60" r="1.3" fill="#c8102e"/>
<circle cx="83.25" cy="184.30" r="1.3" fill="#c8102e"/>
<circle cx="89.22" cy="182.00" r="1.3" fill="#c8102e"/>
<circle cx="95.19" cy="180.60" r="1.3" fill="#c8102e"/>
<circle cx="101.16" cy="179.40" r="1.3" fill="#c8102e"/>
<circle cx="107.13" cy="178.70" r="1.3" fill="#c8102e"/>
<circle cx="113.10" cy="177.90" r="1.3" fill="#c8102e"/>
<circle cx="119.07" cy="177.40" r="1.3" fill="#c8102e"/>
<circle cx="125.04" cy="176.60" r="1.3" fill="#c8102e"/>
<circle cx="131.01" cy="176.20" r="1.3" fill="#c8102e"/>
<circle cx="136.98" cy="175.50" r="1.3" fill="#c8102e"/>
<circle cx="142.95" cy="174.80" r="1.3" fill="#c8102e"/>
<circle cx="148.92" cy="174.60" r="1.3" fill="#c8102e"/>
<text transform="translate(194.40,210.30) rotate(-90)" x="0" y="0" font-size="8.8" text-anchor="middle" fill="#1a1a1a" textLength="75.60" lengthAdjust="spacingAndGlyphs">Annexin-V(+)cells/field</text>
<line x1="222.60" y1="175.30" x2="222.60" y2="246.70" stroke="#1e1e1e" stroke-width="1.3"/>
<line x1="219.40" y1="177.60" x2="222.60" y2="177.60" stroke="#1e1e1e" stroke-width="1.3"/>
<text x="216.60" y="180.55" font-size="8.3" text-anchor="end" font-weight="normal" fill="#1a1a1a" textLength="16.99" lengthAdjust="spacingAndGlyphs">1000</text>
<line x1="219.40" y1="191.32" x2="222.60" y2="191.32" stroke="#1e1e1e" stroke-width="1.3"/>
<text x="216.60" y="194.27" font-size="8.3" text-anchor="end" font-weight="normal" fill="#1a1a1a" textLength="12.74" lengthAdjust="spacingAndGlyphs">800</text>
<line x1="219.40" y1="205.04" x2="222.60" y2="205.04" stroke="#1e1e1e" stroke-width="1.3"/>
<text x="216.60" y="207.99" font-size="8.3" text-anchor="end" font-weight="normal" fill="#1a1a1a" textLength="12.74" lengthAdjust="spacingAndGlyphs">600</text>
<line x1="219.40" y1="218.76" x2="222.60" y2="218.76" stroke="#1e1e1e" stroke-width="1.3"/>
<text x="216.60" y="221.71" font-size="8.3" text-anchor="end" font-weight="normal" fill="#1a1a1a" textLength="12.74" lengthAdjust="spacingAndGlyphs">400</text>
<line x1="219.40" y1="232.48" x2="222.60" y2="232.48" stroke="#1e1e1e" stroke-width="1.3"/>
<text x="216.60" y="235.43" font-size="8.3" text-anchor="end" font-weight="normal" fill="#1a1a1a" textLength="12.74" lengthAdjust="spacingAndGlyphs">200</text>
<line x1="219.40" y1="246.20" x2="222.60" y2="246.20" stroke="#1e1e1e" stroke-width="1.3"/>
<text x="216.60" y="249.15" font-size="8.3" text-anchor="end" font-weight="normal" fill="#1a1a1a" textLength="4.25" lengthAdjust="spacingAndGlyphs">0</text>
<line x1="222.10" y1="246.20" x2="323.70" y2="246.20" stroke="#1e1e1e" stroke-width="1.3"/>
<line x1="235.70" y1="246.20" x2="235.70" y2="249.30" stroke="#1e1e1e" stroke-width="1.3"/>
<line x1="254.40" y1="246.20" x2="254.40" y2="249.30" stroke="#1e1e1e" stroke-width="1.3"/>
<line x1="273.10" y1="246.20" x2="273.10" y2="249.30" stroke="#1e1e1e" stroke-width="1.3"/>
<line x1="291.70" y1="246.20" x2="291.70" y2="249.30" stroke="#1e1e1e" stroke-width="1.3"/>
<line x1="310.50" y1="246.20" x2="310.50" y2="249.30" stroke="#1e1e1e" stroke-width="1.3"/>
<rect x="229.50" y="234.20" width="12.40" height="12.00" fill="#3bb44a"/>
<line x1="235.70" y1="234.70" x2="235.70" y2="233.10" stroke="#2a2a2a" stroke-width="1.1"/>
<line x1="232.70" y1="233.10" x2="238.70" y2="233.10" stroke="#2a2a2a" stroke-width="1.1"/>
<rect x="248.20" y="229.50" width="12.40" height="16.70" fill="#fc8e06"/>
<line x1="254.40" y1="230.00" x2="254.40" y2="228.00" stroke="#2a2a2a" stroke-width="1.1"/>
<line x1="251.40" y1="228.00" x2="257.40" y2="228.00" stroke="#2a2a2a" stroke-width="1.1"/>
<rect x="266.90" y="229.50" width="12.40" height="16.70" fill="#5c2a6c"/>
<line x1="273.10" y1="230.00" x2="273.10" y2="227.20" stroke="#2a2a2a" stroke-width="1.1"/>
<line x1="270.10" y1="227.20" x2="276.10" y2="227.20" stroke="#2a2a2a" stroke-width="1.1"/>
<rect x="285.50" y="185.50" width="12.40" height="60.70" fill="#124f86"/>
<line x1="291.70" y1="186.00" x2="291.70" y2="184.00" stroke="#2a2a2a" stroke-width="1.1"/>
<line x1="288.70" y1="184.00" x2="294.70" y2="184.00" stroke="#2a2a2a" stroke-width="1.1"/>
<rect x="304.30" y="183.20" width="12.40" height="63.00" fill="#c8102e"/>
<line x1="310.50" y1="183.70" x2="310.50" y2="180.40" stroke="#2a2a2a" stroke-width="1.1"/>
<line x1="307.50" y1="180.40" x2="313.50" y2="180.40" stroke="#2a2a2a" stroke-width="1.1"/>
<line x1="286.60" y1="175.30" x2="307.40" y2="175.30" stroke="#2a2a2a" stroke-width="1.1"/>
<line x1="286.60" y1="172.40" x2="286.60" y2="178.30" stroke="#2a2a2a" stroke-width="1.1"/>
<line x1="307.40" y1="172.40" x2="307.40" y2="178.30" stroke="#2a2a2a" stroke-width="1.1"/>
<text x="297.00" y="172.90" font-size="8" text-anchor="middle" font-weight="normal" fill="#1a1a1a">NS</text>
<rect x="328.00" y="182.20" width="7.20" height="3.20" fill="#3bb44a"/>
<text x="337.80" y="186.36" font-size="7.1" text-anchor="start" font-weight="normal" fill="#1a1a1a" textLength="41.10" lengthAdjust="spacingAndGlyphs">Normal cells</text>
<rect x="328.00" y="189.60" width="7.20" height="3.20" fill="#fc8e06"/>
<text x="337.80" y="193.76" font-size="7.1" text-anchor="start" font-weight="normal" fill="#1a1a1a" textLength="59.20" lengthAdjust="spacingAndGlyphs">Rituximab-1μg/ml</text>
<rect x="328.00" y="197.00" width="7.20" height="3.20" fill="#5c2a6c"/>
<text x="337.80" y="201.16" font-size="7.1" text-anchor="start" font-weight="normal" fill="#1a1a1a" textLength="55.40" lengthAdjust="spacingAndGlyphs">ChT-1A5-1μg/ml</text>
<rect x="328.00" y="204.40" width="7.20" height="3.20" fill="#124f86"/>
<text x="337.80" y="208.56" font-size="7.1" text-anchor="start" font-weight="normal" fill="#1a1a1a" textLength="74.30" lengthAdjust="spacingAndGlyphs">NK+Rituximab-1μg/ml</text>
<rect x="328.00" y="211.80" width="7.20" height="3.20" fill="#c8102e"/>
<text x="337.80" y="215.96" font-size="7.1" text-anchor="start" font-weight="normal" fill="#1a1a1a" textLength="70.40" lengthAdjust="spacingAndGlyphs">NK+ChT-1A5-1μg/ml</text>
<text transform="translate(112.30,344.20) rotate(-90)" x="0" y="0" font-size="8.8" text-anchor="middle" fill="#1a1a1a" textLength="75.50" lengthAdjust="spacingAndGlyphs">Annexin-V(+)cells/field</text>
<line x1="142.00" y1="299.30" x2="142.00" y2="388.90" stroke="#1e1e1e" stroke-width="1.3"/>
<line x1="138.80" y1="302.50" x2="142.00" y2="302.50" stroke="#1e1e1e" stroke-width="1.3"/>
<text x="136.00" y="305.45" font-size="8.3" text-anchor="end" font-weight="normal" fill="#1a1a1a" textLength="17.91" lengthAdjust="spacingAndGlyphs">2500</text>
<line x1="138.80" y1="319.68" x2="142.00" y2="319.68" stroke="#1e1e1e" stroke-width="1.3"/>
<text x="136.00" y="322.63" font-size="8.3" text-anchor="end" font-weight="normal" fill="#1a1a1a" textLength="17.91" lengthAdjust="spacingAndGlyphs">2000</text>
<line x1="138.80" y1="336.86" x2="142.00" y2="336.86" stroke="#1e1e1e" stroke-width="1.3"/>
<text x="136.00" y="339.81" font-size="8.3" text-anchor="end" font-weight="normal" fill="#1a1a1a" textLength="17.91" lengthAdjust="spacingAndGlyphs">1500</text>
<line x1="138.80" y1="354.04" x2="142.00" y2="354.04" stroke="#1e1e1e" stroke-width="1.3"/>
<text x="136.00" y="356.99" font-size="8.3" text-anchor="end" font-weight="normal" fill="#1a1a1a" textLength="17.91" lengthAdjust="spacingAndGlyphs">1000</text>
<line x1="138.80" y1="371.22" x2="142.00" y2="371.22" stroke="#1e1e1e" stroke-width="1.3"/>
<text x="136.00" y="374.17" font-size="8.3" text-anchor="end" font-weight="normal" fill="#1a1a1a" textLength="13.43" lengthAdjust="spacingAndGlyphs">500</text>
<line x1="138.80" y1="388.40" x2="142.00" y2="388.40" stroke="#1e1e1e" stroke-width="1.3"/>
<text x="136.00" y="391.35" font-size="8.3" text-anchor="end" font-weight="normal" fill="#1a1a1a" textLength="4.48" lengthAdjust="spacingAndGlyphs">0</text>
<line x1="141.50" y1="388.40" x2="422.20" y2="388.40" stroke="#1e1e1e" stroke-width="1.3"/>
<line x1="149.50" y1="388.40" x2="149.50" y2="391.40" stroke="#1e1e1e" stroke-width="1.3"/>
<rect x="145.80" y="374.30" width="7.40" height="14.10" fill="#3bb44a"/>
<line x1="149.50" y1="374.80" x2="149.50" y2="373.20" stroke="#2a2a2a" stroke-width="1.0"/>
<line x1="147.40" y1="373.20" x2="151.60" y2="373.20" stroke="#2a2a2a" stroke-width="1.0"/>
<line x1="161.02" y1="388.40" x2="161.02" y2="391.40" stroke="#1e1e1e" stroke-width="1.3"/>
<rect x="157.32" y="375.00" width="7.40" height="13.40" fill="#5c2a6c"/>
<line x1="161.02" y1="375.50" x2="161.02" y2="374.00" stroke="#2a2a2a" stroke-width="1.0"/>
<line x1="158.92" y1="374.00" x2="163.12" y2="374.00" stroke="#2a2a2a" stroke-width="1.0"/>
<line x1="172.54" y1="388.40" x2="172.54" y2="391.40" stroke="#1e1e1e" stroke-width="1.3"/>
<rect x="168.84" y="373.30" width="7.40" height="15.10" fill="#fc8e06"/>
<line x1="172.54" y1="373.80" x2="172.54" y2="372.20" stroke="#2a2a2a" stroke-width="1.0"/>
<line x1="170.44" y1="372.20" x2="174.64" y2="372.20" stroke="#2a2a2a" stroke-width="1.0"/>
<line x1="184.06" y1="388.40" x2="184.06" y2="391.40" stroke="#1e1e1e" stroke-width="1.3"/>
<rect x="180.36" y="373.50" width="7.40" height="14.90" fill="#fc8e06"/>
<line x1="184.06" y1="374.00" x2="184.06" y2="372.20" stroke="#2a2a2a" stroke-width="1.0"/>
<line x1="181.96" y1="372.20" x2="186.16" y2="372.20" stroke="#2a2a2a" stroke-width="1.0"/>
<line x1="195.58" y1="388.40" x2="195.58" y2="391.40" stroke="#1e1e1e" stroke-width="1.3"/>
<rect x="191.88" y="376.80" width="7.40" height="11.60" fill="#046a50"/>
<line x1="195.58" y1="377.30" x2="195.58" y2="375.90" stroke="#2a2a2a" stroke-width="1.0"/>
<line x1="193.48" y1="375.90" x2="197.68" y2="375.90" stroke="#2a2a2a" stroke-width="1.0"/>
<line x1="207.10" y1="388.40" x2="207.10" y2="391.40" stroke="#1e1e1e" stroke-width="1.3"/>
<rect x="203.40" y="375.80" width="7.40" height="12.60" fill="#046a50"/>
<line x1="207.10" y1="376.30" x2="207.10" y2="374.80" stroke="#2a2a2a" stroke-width="1.0"/>
<line x1="205.00" y1="374.80" x2="209.20" y2="374.80" stroke="#2a2a2a" stroke-width="1.0"/>
<line x1="218.62" y1="388.40" x2="218.62" y2="391.40" stroke="#1e1e1e" stroke-width="1.3"/>
<rect x="214.92" y="378.00" width="7.40" height="10.40" fill="#fc8e06"/>
<line x1="218.62" y1="378.50" x2="218.62" y2="377.20" stroke="#2a2a2a" stroke-width="1.0"/>
<line x1="216.52" y1="377.20" x2="220.72" y2="377.20" stroke="#2a2a2a" stroke-width="1.0"/>
<line x1="230.14" y1="388.40" x2="230.14" y2="391.40" stroke="#1e1e1e" stroke-width="1.3"/>
<rect x="226.44" y="373.30" width="7.40" height="15.10" fill="#fc8e06"/>
<line x1="230.14" y1="373.80" x2="230.14" y2="372.20" stroke="#2a2a2a" stroke-width="1.0"/>
<line x1="228.04" y1="372.20" x2="232.24" y2="372.20" stroke="#2a2a2a" stroke-width="1.0"/>
<line x1="241.66" y1="388.40" x2="241.66" y2="391.40" stroke="#1e1e1e" stroke-width="1.3"/>
<rect x="237.96" y="374.50" width="7.40" height="13.90" fill="#046a50"/>
<line x1="241.66" y1="375.00" x2="241.66" y2="373.50" stroke="#2a2a2a" stroke-width="1.0"/>
<line x1="239.56" y1="373.50" x2="243.76" y2="373.50" stroke="#2a2a2a" stroke-width="1.0"/>
<line x1="253.18" y1="388.40" x2="253.18" y2="391.40" stroke="#1e1e1e" stroke-width="1.3"/>
<rect x="249.48" y="380.70" width="7.40" height="7.70" fill="#046a50"/>
<line x1="253.18" y1="381.20" x2="253.18" y2="379.50" stroke="#2a2a2a" stroke-width="1.0"/>
<line x1="251.08" y1="379.50" x2="255.28" y2="379.50" stroke="#2a2a2a" stroke-width="1.0"/>
<line x1="264.70" y1="388.40" x2="264.70" y2="391.40" stroke="#1e1e1e" stroke-width="1.3"/>
<rect x="261.00" y="364.20" width="7.40" height="24.20" fill="#c8102e"/>
<line x1="264.70" y1="364.70" x2="264.70" y2="361.90" stroke="#2a2a2a" stroke-width="1.0"/>
<line x1="262.60" y1="361.90" x2="266.80" y2="361.90" stroke="#2a2a2a" stroke-width="1.0"/>
<line x1="276.22" y1="388.40" x2="276.22" y2="391.40" stroke="#1e1e1e" stroke-width="1.3"/>
<rect x="272.52" y="340.00" width="7.40" height="48.40" fill="#c8102e"/>
<line x1="276.22" y1="340.50" x2="276.22" y2="337.50" stroke="#2a2a2a" stroke-width="1.0"/>
<line x1="274.12" y1="337.50" x2="278.32" y2="337.50" stroke="#2a2a2a" stroke-width="1.0"/>
<line x1="287.74" y1="388.40" x2="287.74" y2="391.40" stroke="#1e1e1e" stroke-width="1.3"/>
<rect x="284.04" y="352.40" width="7.40" height="36.00" fill="#124f86"/>
<line x1="287.74" y1="352.90" x2="287.74" y2="350.70" stroke="#2a2a2a" stroke-width="1.0"/>
<line x1="285.64" y1="350.70" x2="289.84" y2="350.70" stroke="#2a2a2a" stroke-width="1.0"/>
<line x1="299.26" y1="388.40" x2="299.26" y2="391.40" stroke="#1e1e1e" stroke-width="1.3"/>
<rect x="295.56" y="329.10" width="7.40" height="59.30" fill="#124f86"/>
<line x1="299.26" y1="329.60" x2="299.26" y2="327.00" stroke="#2a2a2a" stroke-width="1.0"/>
<line x1="297.16" y1="327.00" x2="301.36" y2="327.00" stroke="#2a2a2a" stroke-width="1.0"/>
<line x1="310.78" y1="388.40" x2="310.78" y2="391.40" stroke="#1e1e1e" stroke-width="1.3"/>
<rect x="307.08" y="319.20" width="7.40" height="69.20" fill="#c8102e"/>
<line x1="310.78" y1="319.70" x2="310.78" y2="316.30" stroke="#2a2a2a" stroke-width="1.0"/>
<line x1="308.68" y1="316.30" x2="312.88" y2="316.30" stroke="#2a2a2a" stroke-width="1.0"/>
<line x1="322.30" y1="388.40" x2="322.30" y2="391.40" stroke="#1e1e1e" stroke-width="1.3"/>
<rect x="318.60" y="312.60" width="7.40" height="75.80" fill="#c8102e"/>
<line x1="322.30" y1="313.10" x2="322.30" y2="308.10" stroke="#2a2a2a" stroke-width="1.0"/>
<line x1="320.20" y1="308.10" x2="324.40" y2="308.10" stroke="#2a2a2a" stroke-width="1.0"/>
<line x1="333.82" y1="388.40" x2="333.82" y2="391.40" stroke="#1e1e1e" stroke-width="1.3"/>
<rect x="330.12" y="353.30" width="7.40" height="35.10" fill="#124f86"/>
<line x1="333.82" y1="353.80" x2="333.82" y2="351.10" stroke="#2a2a2a" stroke-width="1.0"/>
<line x1="331.72" y1="351.10" x2="335.92" y2="351.10" stroke="#2a2a2a" stroke-width="1.0"/>
<line x1="345.34" y1="388.40" x2="345.34" y2="391.40" stroke="#1e1e1e" stroke-width="1.3"/>
<rect x="341.64" y="334.00" width="7.40" height="54.40" fill="#124f86"/>
<line x1="345.34" y1="334.50" x2="345.34" y2="332.00" stroke="#2a2a2a" stroke-width="1.0"/>
<line x1="343.24" y1="332.00" x2="347.44" y2="332.00" stroke="#2a2a2a" stroke-width="1.0"/>
<line x1="356.86" y1="388.40" x2="356.86" y2="391.40" stroke="#1e1e1e" stroke-width="1.3"/>
<rect x="353.16" y="317.00" width="7.40" height="71.40" fill="#c8102e"/>
<line x1="356.86" y1="317.50" x2="356.86" y2="313.20" stroke="#2a2a2a" stroke-width="1.0"/>
<line x1="354.76" y1="313.20" x2="358.96" y2="313.20" stroke="#2a2a2a" stroke-width="1.0"/>
<line x1="368.38" y1="388.40" x2="368.38" y2="391.40" stroke="#1e1e1e" stroke-width="1.3"/>
<rect x="364.68" y="319.20" width="7.40" height="69.20" fill="#c8102e"/>
<line x1="368.38" y1="319.70" x2="368.38" y2="313.40" stroke="#2a2a2a" stroke-width="1.0"/>
<line x1="366.28" y1="313.40" x2="370.48" y2="313.40" stroke="#2a2a2a" stroke-width="1.0"/>
<line x1="379.90" y1="388.40" x2="379.90" y2="391.40" stroke="#1e1e1e" stroke-width="1.3"/>
<rect x="376.20" y="356.60" width="7.40" height="31.80" fill="#124f86"/>
<line x1="379.90" y1="357.10" x2="379.90" y2="354.70" stroke="#2a2a2a" stroke-width="1.0"/>
<line x1="377.80" y1="354.70" x2="382.00" y2="354.70" stroke="#2a2a2a" stroke-width="1.0"/>
<line x1="391.42" y1="388.40" x2="391.42" y2="391.40" stroke="#1e1e1e" stroke-width="1.3"/>
<rect x="387.72" y="334.60" width="7.40" height="53.80" fill="#124f86"/>
<line x1="391.42" y1="335.10" x2="391.42" y2="332.20" stroke="#2a2a2a" stroke-width="1.0"/>
<line x1="389.32" y1="332.20" x2="393.52" y2="332.20" stroke="#2a2a2a" stroke-width="1.0"/>
<line x1="402.94" y1="388.40" x2="402.94" y2="391.40" stroke="#1e1e1e" stroke-width="1.3"/>
<rect x="399.24" y="325.80" width="7.40" height="62.60" fill="#c8102e"/>
<line x1="402.94" y1="326.30" x2="402.94" y2="321.40" stroke="#2a2a2a" stroke-width="1.0"/>
<line x1="400.84" y1="321.40" x2="405.04" y2="321.40" stroke="#2a2a2a" stroke-width="1.0"/>
<line x1="414.46" y1="388.40" x2="414.46" y2="391.40" stroke="#1e1e1e" stroke-width="1.3"/>
<rect x="410.76" y="328.70" width="7.40" height="59.70" fill="#c8102e"/>
<line x1="414.46" y1="329.20" x2="414.46" y2="324.70" stroke="#2a2a2a" stroke-width="1.0"/>
<line x1="412.36" y1="324.70" x2="416.56" y2="324.70" stroke="#2a2a2a" stroke-width="1.0"/>
<line x1="261.50" y1="330.40" x2="273.50" y2="330.40" stroke="#2a2a2a" stroke-width="1.1"/>
<line x1="261.50" y1="328.10" x2="261.50" y2="332.40" stroke="#2a2a2a" stroke-width="1.1"/>
<line x1="273.50" y1="328.10" x2="273.50" y2="332.40" stroke="#2a2a2a" stroke-width="1.1"/>
<path d="M263.90,326.50L263.90,325.40M263.90,326.50L262.85,326.16M263.90,326.50L263.25,327.39M263.90,326.50L264.55,327.39M263.90,326.50L264.95,326.16" stroke="#111" stroke-width="0.85" stroke-linecap="round" fill="none"/>
<circle cx="263.90" cy="326.50" r="0.61" fill="#111"/>
<path d="M267.50,326.50L267.50,325.40M267.50,326.50L266.45,326.16M267.50,326.50L266.85,327.39M267.50,326.50L268.15,327.39M267.50,326.50L268.55,326.16" stroke="#111" stroke-width="0.85" stroke-linecap="round" fill="none"/>
<circle cx="267.50" cy="326.50" r="0.61" fill="#111"/>
<path d="M271.10,326.50L271.10,325.40M271.10,326.50L270.05,326.16M271.10,326.50L270.45,327.39M271.10,326.50L271.75,327.39M271.10,326.50L272.15,326.16" stroke="#111" stroke-width="0.85" stroke-linecap="round" fill="none"/>
<circle cx="271.10" cy="326.50" r="0.61" fill="#111"/>
<line x1="285.50" y1="319.00" x2="297.30" y2="319.00" stroke="#2a2a2a" stroke-width="1.1"/>
<line x1="285.50" y1="316.70" x2="285.50" y2="321.00" stroke="#2a2a2a" stroke-width="1.1"/>
<line x1="297.30" y1="316.70" x2="297.30" y2="321.00" stroke="#2a2a2a" stroke-width="1.1"/>
<path d="M287.80,315.10L287.80,314.00M287.80,315.10L286.75,314.76M287.80,315.10L287.15,315.99M287.80,315.10L288.45,315.99M287.80,315.10L288.85,314.76" stroke="#111" stroke-width="0.85" stroke-linecap="round" fill="none"/>
<circle cx="287.80" cy="315.10" r="0.61" fill="#111"/>
<path d="M291.40,315.10L291.40,314.00M291.40,315.10L290.35,314.76M291.40,315.10L290.75,315.99M291.40,315.10L292.05,315.99M291.40,315.10L292.45,314.76" stroke="#111" stroke-width="0.85" stroke-linecap="round" fill="none"/>
<circle cx="291.40" cy="315.10" r="0.61" fill="#111"/>
<path d="M295.00,315.10L295.00,314.00M295.00,315.10L293.95,314.76M295.00,315.10L294.35,315.99M295.00,315.10L295.65,315.99M295.00,315.10L296.05,314.76" stroke="#111" stroke-width="0.85" stroke-linecap="round" fill="none"/>
<circle cx="295.00" cy="315.10" r="0.61" fill="#111"/>
<line x1="311.00" y1="301.50" x2="322.00" y2="301.50" stroke="#2a2a2a" stroke-width="1.1"/>
<line x1="311.00" y1="299.30" x2="311.00" y2="303.70" stroke="#2a2a2a" stroke-width="1.1"/>
<line x1="322.00" y1="299.30" x2="322.00" y2="303.70" stroke="#2a2a2a" stroke-width="1.1"/>
<text x="316.50" y="299.10" font-size="7.6" text-anchor="middle" font-weight="normal" fill="#1a1a1a">ns</text>
<line x1="332.40" y1="325.30" x2="344.80" y2="325.30" stroke="#2a2a2a" stroke-width="1.1"/>
<line x1="332.40" y1="323.00" x2="332.40" y2="327.30" stroke="#2a2a2a" stroke-width="1.1"/>
<line x1="344.80" y1="323.00" x2="344.80" y2="327.30" stroke="#2a2a2a" stroke-width="1.1"/>
<path d="M335.00,321.40L335.00,320.30M335.00,321.40L333.95,321.06M335.00,321.40L334.35,322.29M335.00,321.40L335.65,322.29M335.00,321.40L336.05,321.06" stroke="#111" stroke-width="0.85" stroke-linecap="round" fill="none"/>
<circle cx="335.00" cy="321.40" r="0.61" fill="#111"/>
<path d="M338.60,321.40L338.60,320.30M338.60,321.40L337.55,321.06M338.60,321.40L337.95,322.29M338.60,321.40L339.25,322.29M338.60,321.40L339.65,321.06" stroke="#111" stroke-width="0.85" stroke-linecap="round" fill="none"/>
<circle cx="338.60" cy="321.40" r="0.61" fill="#111"/>
<path d="M342.20,321.40L342.20,320.30M342.20,321.40L341.15,321.06M342.20,321.40L341.55,322.29M342.20,321.40L342.85,322.29M342.20,321.40L343.25,321.06" stroke="#111" stroke-width="0.85" stroke-linecap="round" fill="none"/>
<circle cx="342.20" cy="321.40" r="0.61" fill="#111"/>
<line x1="356.70" y1="306.40" x2="367.70" y2="306.40" stroke="#2a2a2a" stroke-width="1.1"/>
<line x1="356.70" y1="304.20" x2="356.70" y2="308.60" stroke="#2a2a2a" stroke-width="1.1"/>
<line x1="367.70" y1="304.20" x2="367.70" y2="308.60" stroke="#2a2a2a" stroke-width="1.1"/>
<text x="362.20" y="304.00" font-size="7.6" text-anchor="middle" font-weight="normal" fill="#1a1a1a">ns</text>
<line x1="378.60" y1="325.80" x2="390.90" y2="325.80" stroke="#2a2a2a" stroke-width="1.1"/>
<line x1="378.60" y1="323.50" x2="378.60" y2="327.80" stroke="#2a2a2a" stroke-width="1.1"/>
<line x1="390.90" y1="323.50" x2="390.90" y2="327.80" stroke="#2a2a2a" stroke-width="1.1"/>
<path d="M381.15,321.90L381.15,320.80M381.15,321.90L380.10,321.56M381.15,321.90L380.50,322.79M381.15,321.90L381.80,322.79M381.15,321.90L382.20,321.56" stroke="#111" stroke-width="0.85" stroke-linecap="round" fill="none"/>
<circle cx="381.15" cy="321.90" r="0.61" fill="#111"/>
<path d="M384.75,321.90L384.75,320.80M384.75,321.90L383.70,321.56M384.75,321.90L384.10,322.79M384.75,321.90L385.40,322.79M384.75,321.90L385.80,321.56" stroke="#111" stroke-width="0.85" stroke-linecap="round" fill="none"/>
<circle cx="384.75" cy="321.90" r="0.61" fill="#111"/>
<path d="M388.35,321.90L388.35,320.80M388.35,321.90L387.30,321.56M388.35,321.90L387.70,322.79M388.35,321.90L389.00,322.79M388.35,321.90L389.40,321.56" stroke="#111" stroke-width="0.85" stroke-linecap="round" fill="none"/>
<circle cx="388.35" cy="321.90" r="0.61" fill="#111"/>
<line x1="402.40" y1="314.30" x2="413.40" y2="314.30" stroke="#2a2a2a" stroke-width="1.1"/>
<line x1="402.40" y1="312.10" x2="402.40" y2="316.50" stroke="#2a2a2a" stroke-width="1.1"/>
<line x1="413.40" y1="312.10" x2="413.40" y2="316.50" stroke="#2a2a2a" stroke-width="1.1"/>
<text x="407.90" y="311.90" font-size="7.6" text-anchor="middle" font-weight="normal" fill="#1a1a1a">ns</text>
<text transform="translate(149.80,397.70) rotate(-45)" x="0" y="0" font-size="7.6" text-anchor="end" word-spacing="1.0" fill="#1a1a1a">Scr ShRNA</text>
<text transform="translate(161.32,397.70) rotate(-45)" x="0" y="0" font-size="7.6" text-anchor="end" word-spacing="1.0" fill="#1a1a1a">B7-H3 KD</text>
<text transform="translate(172.84,399.10) rotate(-45)" x="0" y="0" font-size="7.6" text-anchor="end" word-spacing="1.0" fill="#1a1a1a">B7-H3 KD + IgG1</text>
<text transform="translate(184.36,399.10) rotate(-45)" x="0" y="0" font-size="7.6" text-anchor="end" word-spacing="1.0" fill="#1a1a1a">Scr ShRNA + IgG1</text>
<text transform="translate(195.88,399.10) rotate(-45)" x="0" y="0" font-size="7.6" text-anchor="end" word-spacing="1.0" fill="#1a1a1a">Scr ShRNA + T-1A5</text>
<text transform="translate(207.40,399.10) rotate(-45)" x="0" y="0" font-size="7.6" text-anchor="end" word-spacing="1.0" fill="#1a1a1a">B7-H3 KD + T-1A5</text>
<text transform="translate(218.92,399.10) rotate(-45)" x="0" y="0" font-size="7.6" text-anchor="end" word-spacing="1.0" fill="#1a1a1a">Scr ShRNA + Rtx</text>
<text transform="translate(230.44,399.10) rotate(-45)" x="0" y="0" font-size="7.6" text-anchor="end" word-spacing="1.0" fill="#1a1a1a">B7-H3 KD + Rtx</text>
<text transform="translate(241.96,399.10) rotate(-45)" x="0" y="0" font-size="7.6" text-anchor="end" word-spacing="1.0" fill="#1a1a1a">Scr ShRNA + ChT-1A5</text>
<text transform="translate(253.48,399.10) rotate(-45)" x="0" y="0" font-size="7.6" text-anchor="end" word-spacing="1.0" fill="#1a1a1a">B7-H3 KD + ChT-1A5</text>
<text transform="translate(265.00,399.10) rotate(-45)" x="0" y="0" font-size="7.6" text-anchor="end" word-spacing="1.0" fill="#1a1a1a">Scr ShRNA + NK</text>
<text transform="translate(276.52,399.10) rotate(-45)" x="0" y="0" font-size="7.6" text-anchor="end" word-spacing="1.0" fill="#1a1a1a">B7-H3 KD + NK</text>
<text transform="translate(288.04,399.10) rotate(-45)" x="0" y="0" font-size="7.6" text-anchor="end" word-spacing="1.0" fill="#1a1a1a">Scr ShRNA + IgG1 + NK</text>
<text transform="translate(299.56,399.10) rotate(-45)" x="0" y="0" font-size="7.6" text-anchor="end" word-spacing="1.0" fill="#1a1a1a">B7-H3 KD + IgG1 + NK</text>
<text transform="translate(311.08,399.10) rotate(-45)" x="0" y="0" font-size="7.6" text-anchor="end" word-spacing="1.0" fill="#1a1a1a">Scr ShRNA + T-1A5 + NK</text>
<text transform="translate(322.60,399.10) rotate(-45)" x="0" y="0" font-size="7.6" text-anchor="end" word-spacing="1.0" fill="#1a1a1a">B7-H3 KD + T-1A5 + NK</text>
<text transform="translate(334.12,399.10) rotate(-45)" x="0" y="0" font-size="7.6" text-anchor="end" word-spacing="1.0" fill="#1a1a1a">Scr ShRNA + Rtx + NK</text>
<text transform="translate(345.64,399.10) rotate(-45)" x="0" y="0" font-size="7.6" text-anchor="end" word-spacing="1.0" fill="#1a1a1a">B7-H3 KD + Rtx + NK</text>
<text transform="translate(357.16,399.10) rotate(-45)" x="0" y="0" font-size="7.6" text-anchor="end" word-spacing="1.0" fill="#1a1a1a">Scr ShRNA + ChT-1A5 + NK</text>
<text transform="translate(368.68,399.10) rotate(-45)" x="0" y="0" font-size="7.6" text-anchor="end" word-spacing="1.0" fill="#1a1a1a">B7-H3 KD + ChT-1A5 + NK</text>
<text transform="translate(380.20,399.10) rotate(-45)" x="0" y="0" font-size="7.6" text-anchor="end" word-spacing="1.0" fill="#1a1a1a">Scr ShRNA + Rtx + IgG1 + NK</text>
<text transform="translate(391.72,399.10) rotate(-45)" x="0" y="0" font-size="7.6" text-anchor="end" word-spacing="1.0" fill="#1a1a1a">B7-H3 KD + Rtx + IgG1 + NK</text>
<text transform="translate(403.24,399.10) rotate(-45)" x="0" y="0" font-size="7.6" text-anchor="end" word-spacing="1.0" fill="#1a1a1a">Scr ShRNA + T-1A5 + ChT-1A5 + NK</text>
<text transform="translate(414.76,399.10) rotate(-45)" x="0" y="0" font-size="7.6" text-anchor="end" word-spacing="1.0" fill="#1a1a1a">B7-H3 KD + T-1A5 + ChT-1A5 + NK</text>
</svg>
</body></html>
